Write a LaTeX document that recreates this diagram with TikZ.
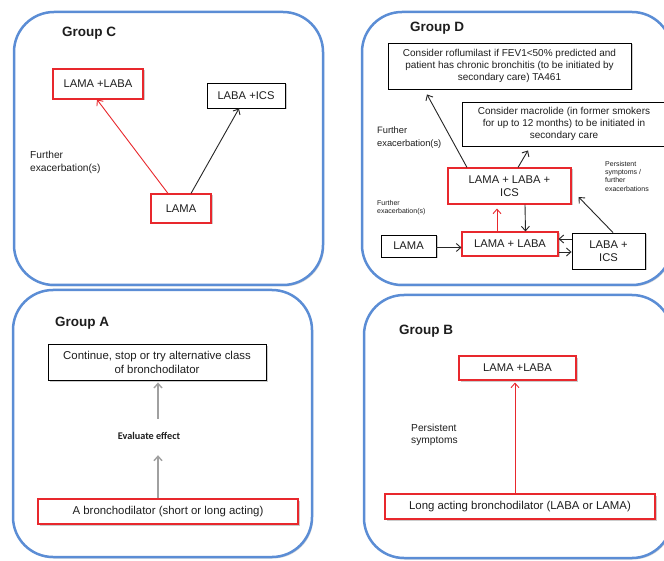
\documentclass[tikz,border=0pt]{standalone}
\usepackage{fontspec}
\setmainfont{Liberation Sans}
\newfontfamily\calfont{Carlito}
\usetikzlibrary{arrows.meta,shadows,calc}
\definecolor{panelblue}{RGB}{91,141,213}
\definecolor{boxred}{RGB}{232,40,45}
\definecolor{txt}{RGB}{30,30,30}
\definecolor{arrgray}{RGB}{160,160,160}
\tikzset{
  panel/.style={draw=panelblue, line width=2.5pt, rounded corners=40pt, fill=white,
    drop shadow={shadow xshift=1.2pt, shadow yshift=-1.5pt, opacity=0.3}},
  boxbase/.style={fill=white, inner sep=1pt, align=center, text=txt,
    drop shadow={shadow xshift=1.5pt, shadow yshift=-1.5pt, opacity=0.4}},
  redbox/.style={boxbase, draw=boxred, line width=1.1pt},
  blackbox/.style={boxbase, draw=black, line width=0.9pt},
  title/.style={font=\fontsize{13.5}{15}\selectfont\bfseries, text=txt, anchor=west, inner sep=0pt},
  lbl/.style={align=left, anchor=north west, inner sep=0pt, text=txt},
  arr/.style={-{Straight Barb[length=4.5pt,width=8pt]}, line width=0.9pt},
  blackarr/.style={arr, draw=black!85},
  redarr/.style={arr, draw=boxred},
  grayarr/.style={arr, draw=arrgray, line width=1.4pt},
}
\begin{document}
\begin{tikzpicture}[x=1pt,y=-1pt]
\useasboundingbox (0,0) rectangle (664,561);
% panels
\node[panel, minimum width=309pt, minimum height=273pt] (pc) at (168.5,148.5) {};
\node[panel, minimum width=310pt, minimum height=273pt] (pd) at (517,148.5) {};
\node[panel, minimum width=299pt, minimum height=267pt] (pa) at (162.5,423.5) {};
\node[panel, minimum width=308pt, minimum height=263pt] (pb) at (518,426.5) {};
% titles
\node[title] (tc) at (62,33) {Group C};
\node[title] (td) at (410,28) {Group D};
\node[title] (ta) at (55,323) {Group A};
\node[title] (tb) at (399,331) {Group B};

% ---------- Group C
\begin{scope}[font=\fontsize{11.2}{13}\selectfont]
\node[redbox, minimum width=90pt, minimum height=30pt] (c1) at (98,84) {LAMA +LABA};
\node[blackbox, minimum width=78pt, minimum height=25pt] (c2) at (246,95.5) {LABA +ICS};
\node[redbox, minimum width=60pt, minimum height=29pt] (c3) at (181,208.5) {LAMA};
\end{scope}
\node[lbl, font=\fontsize{10.2}{12.5}\selectfont] (cl) at (30,151) {Further\\exacerbation(s)};
\draw[redarr] ([xshift=-13pt]c3.north) -- ([xshift=-1pt]c1.south);
\draw[blackarr] ([xshift=10pt]c3.north) -- ([xshift=-7pt]c2.south);

% ---------- Group D
\node[blackbox, minimum width=243pt, minimum height=46pt, font=\fontsize{10}{12.3}\selectfont] (d1) at (509.5,66)
  {Consider roflumilast if FEV1<50\% predicted and\\patient has chronic bronchitis (to be initiated by\\secondary care) TA461};
\node[blackbox, minimum width=204pt, minimum height=44pt, font=\fontsize{10}{12.3}\selectfont] (d2) at (564,124)
  {Consider macrolide (in former smokers\\for up to 12 months) to be initiated in\\secondary care};
\begin{scope}[font=\fontsize{11.2}{13.5}\selectfont]
\node[redbox, minimum width=123pt, minimum height=36pt] (d3) at (509.5,186) {LAMA + LABA +\\ICS};
\node[blackbox, minimum width=55pt, minimum height=22pt] (d4) at (408.5,246) {LAMA};
\node[redbox, minimum width=96pt, minimum height=24pt] (d5) at (510,244) {LAMA + LABA};
\node[blackbox, minimum width=73pt, minimum height=36pt] (d6) at (608.5,251) {LABA +\\ICS};
\end{scope}
\node[lbl, font=\fontsize{9.3}{12.5}\selectfont] (dl1) at (377,127) {Further\\exacerbation(s)};
\node[lbl, font=\fontsize{7}{8.5}\selectfont] (dl2) at (377,200) {Further\\exacerbation(s)};
\node[lbl, font=\fontsize{7}{8.3}\selectfont] (dl3) at (605,161) {Persistent\\symptoms /\\further\\exacerbations};
\draw[blackarr] ([xshift=-42.5pt]d3.north) -- ([xshift=-82.5pt,yshift=-5pt]d1.south);
\draw[blackarr] ([xshift=8.5pt]d3.north) -- ([xshift=-36pt,yshift=-4pt]d2.south);
\draw[blackarr] ([xshift=15.5pt]d3.south) -- ([xshift=15.5pt]d5.north);
\draw[redarr] ([xshift=-13pt]d5.north) -- ([xshift=-12.5pt,yshift=-4pt]d3.south);
\draw[blackarr] ([yshift=-1.5pt]d4.east) -- ([yshift=-1.5pt]d4.east -| d5.west);
\draw[blackarr] ([yshift=12pt]d6.west) -- ([yshift=12pt]d6.west -| d5.east);
\draw[blackarr] ([yshift=-1pt]d6.west -| d5.east) -- ([yshift=-1pt]d6.west);
\draw[blackarr] ([xshift=4.5pt]d6.north) -- ([xshift=7pt,yshift=-11pt]d3.east);

% ---------- Group A
\node[blackbox, minimum width=218pt, minimum height=36pt, font=\fontsize{11.4}{14}\selectfont] (a1) at (157,362)
  {Continue, stop or try alternative class\\of bronchodilator};
\node[redbox, minimum width=260pt, minimum height=25pt, font=\fontsize{11.4}{13}\selectfont] (a2) at (168,511.5)
  {A bronchodilator (short or long acting)};
\node[inner sep=0pt, text=txt, font=\calfont\bfseries\fontsize{10.2}{12}\selectfont, minimum height=38pt] (ev) at (149,436) {Evaluate effect};
\coordinate (ax) at (158,0);
\draw[grayarr] (a2.north -| ax) -- (ev.south -| ax);
\draw[grayarr] ([yshift=-2pt]ev.north -| ax) -- ([yshift=-2pt]a1.south -| ax);

% ---------- Group B
\node[redbox, minimum width=117pt, minimum height=24pt, font=\fontsize{11.2}{13}\selectfont] (b1) at (517.5,368) {LAMA +LABA};
\node[redbox, minimum width=270pt, minimum height=25pt, font=\fontsize{11.4}{13}\selectfont] (b2) at (520,506.5)
  {Long acting bronchodilator (LABA or LAMA)};
\node[lbl, font=\fontsize{10.2}{12}\selectfont] (bl) at (411,424) {Persistent\\symptoms};
\draw[redarr] ([xshift=-5pt]b2.north) -- ([xshift=-2.5pt,yshift=-2pt]b1.south);
\end{tikzpicture}
\end{document}
